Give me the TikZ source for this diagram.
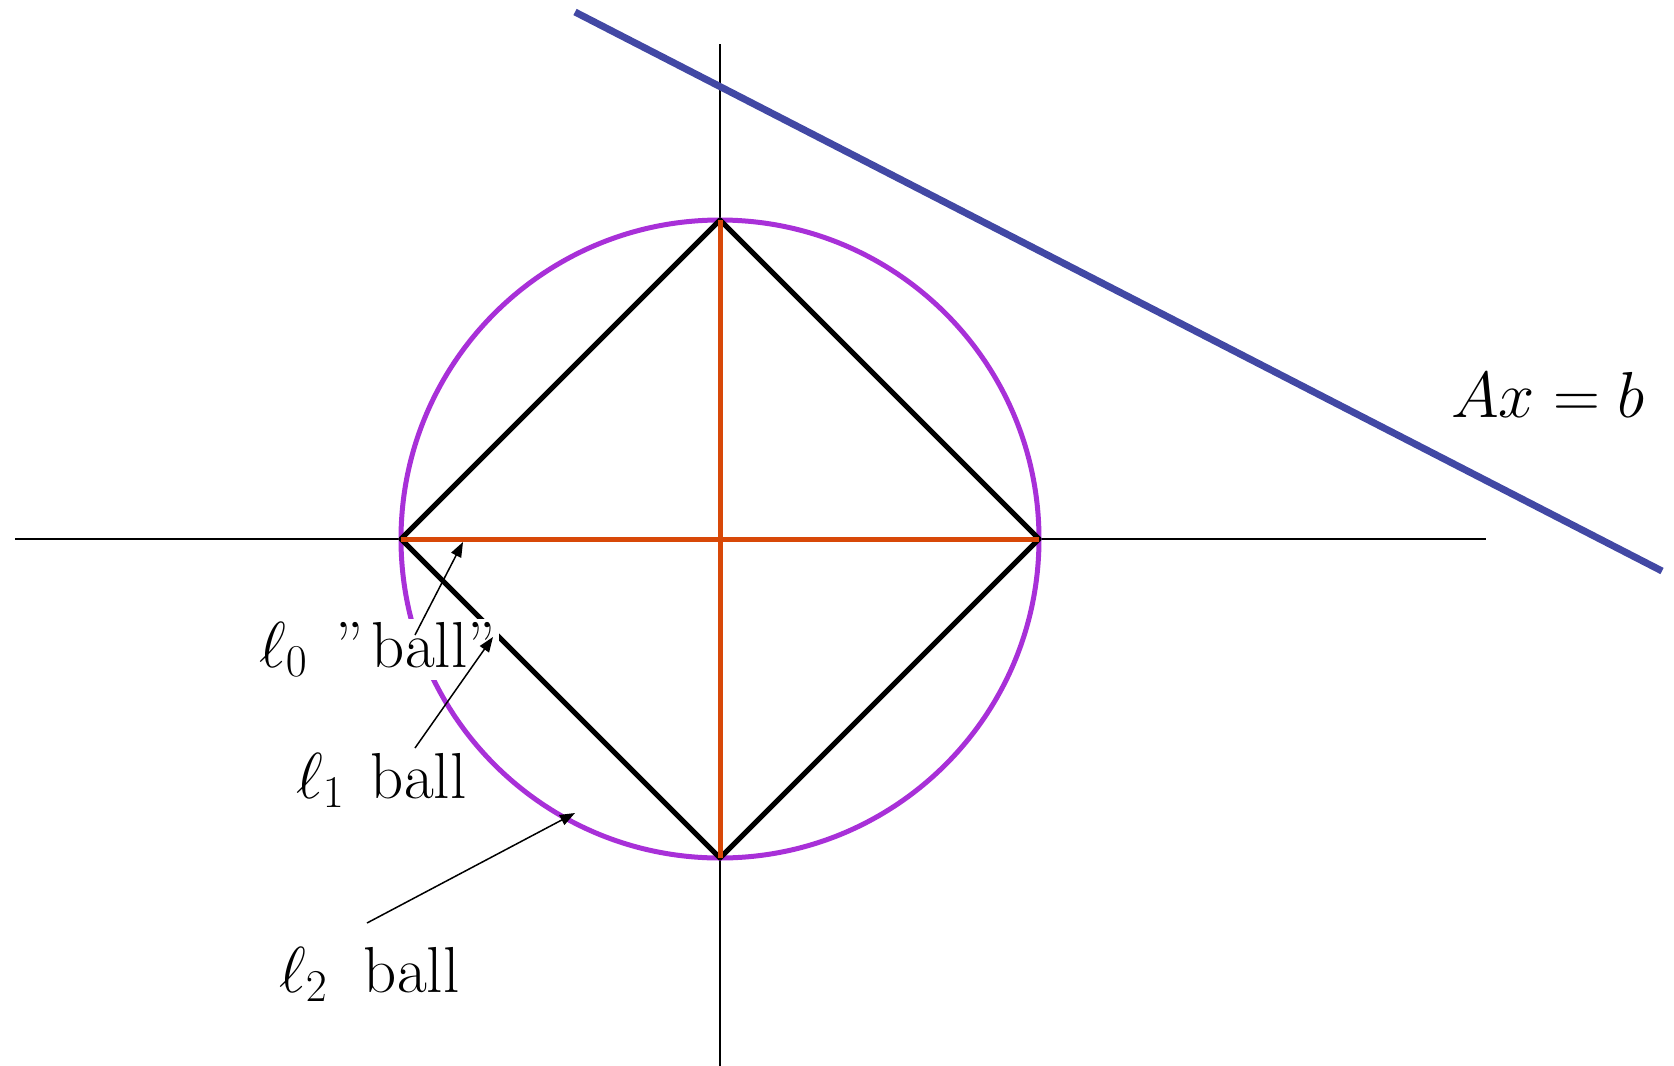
\RequirePackage{fix-cm}
\documentclass[tikz,border=0pt]{standalone}
\usetikzlibrary{arrows.meta}
\definecolor{ballpurple}{RGB}{168,48,216}
\definecolor{crossorange}{RGB}{216,72,8}
\definecolor{lineblue}{RGB}{66,72,164}
\tikzset{
  axis/.style={line width=1.5pt, black},
  ltwo/.style={line width=5pt, ballpurple},
  lone/.style={line width=5pt, black},
  lzero/.style={line width=5pt, crossorange},
  constraint/.style={line width=7pt, lineblue},
  lab/.style={font=\fontsize{65}{78}\selectfont, inner sep=3pt, anchor=base west},
  pointer/.style={line width=1.5pt, -{Triangle[length=15pt,width=11pt]}}
}
\begin{document}
\begin{tikzpicture}[x=1pt,y=-1pt]
\useasboundingbox (0,0) rectangle (1674,1066);
% axes
\coordinate (xl) at (15,539);
\coordinate (xr) at (1486,539);
\coordinate (yt) at (720,44);
\coordinate (yb) at (720,1066);
\draw[axis] (xl) -- (xr);
\draw[axis] (yt) -- (yb);
% center and vertices
\coordinate (O) at (720,539);
\coordinate (L) at (401,539);
\coordinate (R) at (1039,539);
\coordinate (T) at (720,220);
\coordinate (B) at (720,858);
% l2 ball
\draw[ltwo] (O) circle[radius=319];
% l1 ball
\draw[lone, line join=round] (L) -- (T) -- (R) -- (B) -- cycle;
% l0 ball
\draw[lzero] (L) -- (R);
\draw[lzero] (T) -- (B);
% constraint line
\coordinate (c1) at (575,12);
\coordinate (c2) at (1662,571);
\draw[constraint] (c1) -- (c2);
% labels
\node[lab, fill=white] (l0lab) at (256,667) {$\ell_0$\hspace{9pt} ''\kern0.12em ball''};
\node[lab] (l1lab) at (293,798) {$\ell_1$\hspace{7pt} ball};
\node[lab] (l2lab) at (276,992) {$\ell_2$\hspace{17pt} ball};
\node[lab] (axb) at (1448,417) {$Ax=b$};
% arrows
\coordinate (p0s) at (415,635);
\coordinate (p0e) at (463,542);
\coordinate (p1s) at (415,748);
\coordinate (p1e) at (493,637);
\coordinate (p2s) at (367,923);
\coordinate (p2e) at (575,813);
\draw[pointer] (p0s) -- (p0e);
\draw[pointer] (p1s) -- (p1e);
\draw[pointer] (p2s) -- (p2e);
\end{tikzpicture}
\end{document}
